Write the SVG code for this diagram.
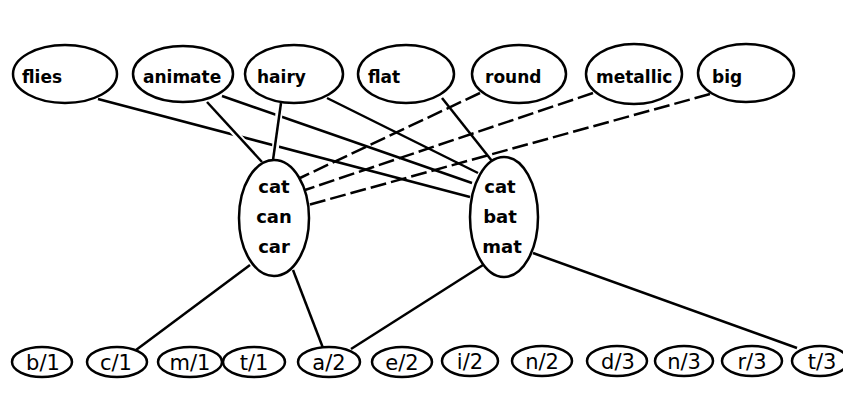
<svg xmlns="http://www.w3.org/2000/svg" width="843" height="395" viewBox="0 0 843 395">
<style>
.n{fill:#fff;stroke:#000;stroke-width:2.5}
.e{fill:none;stroke:#000;stroke-width:2.5}
.d{fill:none;stroke:#000;stroke-width:2.5;stroke-dasharray:16 5}
.h{fill:none;stroke:#fff;stroke-width:7}
.t{font-family:"DejaVu Sans","Liberation Sans",sans-serif;font-size:17px;font-weight:bold;fill:#000}
.m{font-family:"DejaVu Sans","Liberation Sans",sans-serif;font-size:18px;font-weight:bold;fill:#000;text-anchor:middle}
.b{font-family:"DejaVu Sans","Liberation Sans",sans-serif;font-size:21px;fill:#000;text-anchor:middle}
</style>
<rect width="843" height="395" fill="#fff"/>
<g id="connectors">
<path class="e" d="M98,99 L470,197"/>
<path class="e" d="M222,96 L472,183"/>
<path class="d" d="M480,93 L300,178"/>
<path class="d" d="M593,93 L305,190"/>
<path class="d" d="M710,94 L308,205"/>
<path class="h" d="M226,123 L246,145"/>
<path class="e" d="M207,102 L262,162"/>
<path class="h" d="M279.5,108 L275,152"/>
<path class="e" d="M281,103 L273,160"/>
<path class="e" d="M327,98 L478,173"/>
<path class="e" d="M442,98 L492,161"/>
<path class="e" d="M250,265 L136,350"/>
<path class="e" d="M293,270 L323,348"/>
<path class="e" d="M483,265 L351,349"/>
<path class="e" d="M533,253 L797,348"/>
</g>
<g id="flies"><ellipse class="n" cx="65" cy="74" rx="52" ry="29"/><text class="t" x="22" y="83">flies</text></g>
<g id="animate"><ellipse class="n" cx="183" cy="74" rx="50" ry="28"/><text class="t" x="143" y="83">animate</text></g>
<g id="hairy"><ellipse class="n" cx="294" cy="74" rx="49" ry="29"/><text class="t" x="257" y="83">hairy</text></g>
<g id="flat"><ellipse class="n" cx="406" cy="74" rx="48" ry="29"/><text class="t" x="368" y="83">flat</text></g>
<g id="round"><ellipse class="n" cx="519" cy="74" rx="47" ry="29"/><text class="t" x="485" y="83">round</text></g>
<g id="metallic"><ellipse class="n" cx="634" cy="74" rx="48" ry="30"/><text class="t" x="596" y="83">metallic</text></g>
<g id="big"><ellipse class="n" cx="746" cy="73" rx="48" ry="29"/><text class="t" x="712" y="83">big</text></g>
<g id="left"><ellipse class="n" cx="274" cy="218" rx="35" ry="58"/><text class="m" x="274" y="193">cat</text><text class="m" x="274" y="223">can</text><text class="m" x="274" y="253">car</text></g>
<g id="right"><ellipse class="n" cx="504" cy="217" rx="34" ry="60"/><text class="m" x="500" y="193">cat</text><text class="m" x="500" y="223">bat</text><text class="m" x="502" y="253">mat</text></g>
<g id="b1"><ellipse class="n" cx="42" cy="362" rx="30" ry="15"/><text class="b" x="43" y="370">b/1</text></g>
<g id="c1"><ellipse class="n" cx="117" cy="362" rx="30" ry="15"/><text class="b" x="116" y="370">c/1</text></g>
<g id="m1"><ellipse class="n" cx="190" cy="362" rx="32" ry="15"/><text class="b" x="190" y="370">m/1</text></g>
<g id="t1"><ellipse class="n" cx="254" cy="362" rx="31" ry="15"/><text class="b" x="254" y="370">t/1</text></g>
<g id="a2"><ellipse class="n" cx="329" cy="362" rx="31" ry="15"/><text class="b" x="329" y="370">a/2</text></g>
<g id="e2"><ellipse class="n" cx="402" cy="362" rx="30" ry="15"/><text class="b" x="402" y="370">e/2</text></g>
<g id="i2"><ellipse class="n" cx="470" cy="361" rx="28" ry="15"/><text class="b" x="470" y="369">i/2</text></g>
<g id="n2"><ellipse class="n" cx="542" cy="361" rx="30" ry="15"/><text class="b" x="542" y="369">n/2</text></g>
<g id="d3"><ellipse class="n" cx="617" cy="361" rx="30" ry="15"/><text class="b" x="618" y="369">d/3</text></g>
<g id="n3"><ellipse class="n" cx="684" cy="361" rx="29" ry="15"/><text class="b" x="684" y="369">n/3</text></g>
<g id="r3"><ellipse class="n" cx="752" cy="361" rx="30" ry="15"/><text class="b" x="752" y="369">r/3</text></g>
<g id="t3"><ellipse class="n" cx="820" cy="361" rx="28" ry="15"/><text class="b" x="822" y="369">t/3</text></g>
</svg>
